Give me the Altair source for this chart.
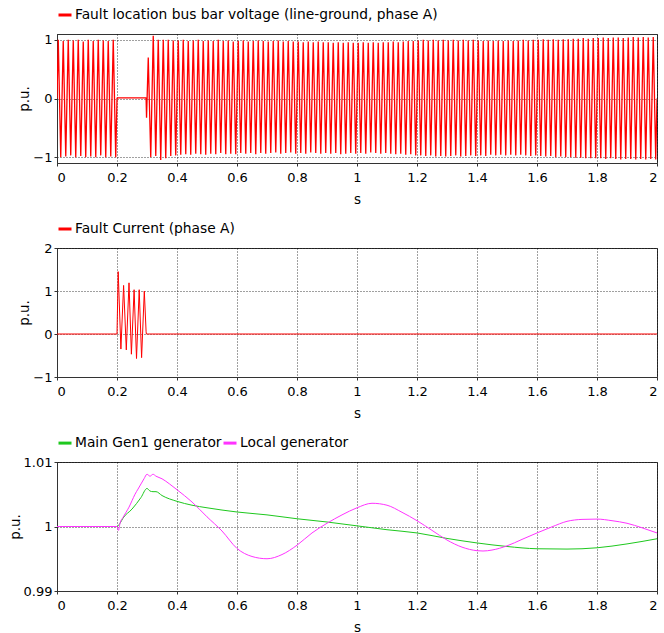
import altair as alt
import pandas as pd

FONT = "DejaVu Sans"

# ---------- Panel 1: fault location bus bar voltage (extrema of the 60 Hz wave, ms / p.u.)
volt_t = [
    0,
    4.2, 12.5, 20.8, 29.2, 37.5, 45.8, 54.2, 62.5, 70.8, 79.2, 87.5, 95.8,
    104.2, 112.5, 120.8, 129.2, 137.5, 145.8, 154.2, 162.5, 170.8, 179.2, 187.5, 195.8,
    200, 201, 296, 297, 298.5,
    304.2, 312.5, 320.8, 329.2, 337.5, 345.8, 354.2, 362.5, 370.8, 379.2, 387.5, 395.8,
    404.2, 412.5, 420.8, 429.2, 437.5, 445.8, 454.2, 462.5, 470.8, 479.2, 487.5, 495.8,
    504.2, 512.5, 520.8, 529.2, 537.5, 545.8, 554.2, 562.5, 570.8, 579.2, 587.5, 595.8,
    604.2, 612.5, 620.8, 629.2, 637.5, 645.8, 654.2, 662.5, 670.8, 679.2, 687.5, 695.8,
    704.2, 712.5, 720.8, 729.2, 737.5, 745.8, 754.2, 762.5, 770.8, 779.2, 787.5, 795.8,
    804.2, 812.5, 820.8, 829.2, 837.5, 845.8, 854.2, 862.5, 870.8, 879.2, 887.5, 895.8,
    904.2, 912.5, 920.8, 929.2, 937.5, 945.8, 954.2, 962.5, 970.8, 979.2, 987.5, 995.8,
    1004.2, 1012.5, 1020.8, 1029.2, 1037.5, 1045.8, 1054.2, 1062.5, 1070.8, 1079.2, 1087.5, 1095.8,
    1104.2, 1112.5, 1120.8, 1129.2, 1137.5, 1145.8, 1154.2, 1162.5, 1170.8, 1179.2, 1187.5, 1195.8,
    1204.2, 1212.5, 1220.8, 1229.2, 1237.5, 1245.8, 1254.2, 1262.5, 1270.8, 1279.2, 1287.5, 1295.8,
    1304.2, 1312.5, 1320.8, 1329.2, 1337.5, 1345.8, 1354.2, 1362.5, 1370.8, 1379.2, 1387.5, 1395.8,
    1404.2, 1412.5, 1420.8, 1429.2, 1437.5, 1445.8, 1454.2, 1462.5, 1470.8, 1479.2, 1487.5, 1495.8,
    1504.2, 1512.5, 1520.8, 1529.2, 1537.5, 1545.8, 1554.2, 1562.5, 1570.8, 1579.2, 1587.5, 1595.8,
    1604.2, 1612.5, 1620.8, 1629.2, 1637.5, 1645.8, 1654.2, 1662.5, 1670.8, 1679.2, 1687.5, 1695.8,
    1704.2, 1712.5, 1720.8, 1729.2, 1737.5, 1745.8, 1754.2, 1762.5, 1770.8, 1779.2, 1787.5, 1795.8,
    1804.2, 1812.5, 1820.8, 1829.2, 1837.5, 1845.8, 1854.2, 1862.5, 1870.8, 1879.2, 1887.5, 1895.8,
    1904.2, 1912.5, 1920.8, 1929.2, 1937.5, 1945.8, 1954.2, 1962.5, 1970.8, 1979.2, 1987.5, 1995.8,
    2000,
]
volt_v = [
    0.0,
    1.0, -1.0, 0.98, -0.99, 1.0, -0.97, 0.99, -1.0, 1.0, -0.98, 0.97, -1.0,
    1.0, -0.99, 0.98, -1.0, 1.0, -0.97, 0.99, -1.0, 0.98, -0.99, 1.0, -1.0,
    0.0, 0.01, 0.01, 0.0, -0.33,
    0.70, -1.0, 1.07, -0.98, 1.0, -1.05, 1.0, -1.02, 1.0, -0.98, 0.99, -0.97,
    0.99, -0.96, 1.0, -0.95, 0.98, -0.96, 0.99, -0.94, 1.0, -0.95, 0.98, -0.96,
    0.99, -0.94, 0.98, -0.95, 1.0, -0.93, 0.98, -0.95, 0.99, -0.94, 0.97, -0.95,
    0.98, -0.93, 0.99, -0.94, 0.97, -0.93, 0.98, -0.95, 0.99, -0.93, 0.98, -0.94,
    0.97, -0.93, 0.98, -0.92, 0.99, -0.94, 0.97, -0.93, 0.98, -0.92, 0.97, -0.94,
    0.97, -0.93, 0.96, -0.94, 0.97, -0.92, 0.96, -0.93, 0.97, -0.94, 0.96, -0.93,
    0.96, -0.94, 0.95, -0.93, 0.96, -0.95, 0.95, -0.94, 0.96, -0.93, 0.95, -0.94,
    0.95, -0.93, 0.96, -0.94, 0.95, -0.92, 0.96, -0.93, 0.95, -0.94, 0.96, -0.93,
    0.96, -0.94, 0.97, -0.95, 0.96, -0.94, 0.97, -0.96, 0.98, -0.95, 0.98, -0.97,
    0.99, -0.97, 1.0, -0.98, 0.99, -0.97, 1.0, -0.99, 0.99, -0.98, 1.0, -0.99,
    0.99, -0.98, 1.0, -0.97, 0.99, -0.99, 1.0, -0.98, 0.99, -0.97, 1.0, -0.98,
    0.99, -0.97, 0.98, -0.98, 0.99, -0.96, 0.98, -0.97, 0.99, -0.96, 0.98, -0.97,
    0.99, -0.96, 0.98, -0.97, 0.99, -0.96, 1.0, -0.97, 0.99, -0.98, 1.0, -0.97,
    1.0, -0.98, 1.01, -0.99, 1.0, -0.98, 1.01, -1.0, 1.0, -0.99, 1.01, -1.0,
    1.01, -1.0, 1.02, -1.01, 1.02, -1.01, 1.03, -1.02, 1.02, -1.02, 1.03, -1.02,
    1.03, -1.02, 1.04, -1.03, 1.03, -1.02, 1.04, -1.03, 1.04, -1.04, 1.03, -1.03,
    1.04, -1.03, 1.05, -1.04, 1.04, -1.03, 1.05, -1.04, 1.04, -1.03, 1.05, -1.04,
    0.0,
]

# ---------- Panel 2: fault current (ms / p.u.)
cur_t = [0, 200, 204, 213, 222, 231, 240, 248, 257, 265, 274, 282, 291, 297, 298, 2000]
cur_v = [0, 0, 1.45, -0.35, 1.13, -0.37, 1.19, -0.47, 1.03, -0.57, 1.03, -0.55, 1.0, 0.05, 0, 0]

# ---------- Panel 3: generator speeds (s / p.u.)
gen1_t = [0, 0.2, 0.21, 0.22, 0.25, 0.28, 0.30, 0.31, 0.32, 0.33, 0.35, 0.40, 0.45, 0.50,
          0.60, 0.70, 0.80, 0.90, 1.00, 1.10, 1.20, 1.30, 1.40, 1.50, 1.60, 1.70, 1.80, 1.90, 2.00]
gen1_v = [1.0, 1.0, 1.0005, 1.0013, 1.0027, 1.0045, 1.0059, 1.0055, 1.0054, 1.0054, 1.0048,
          1.0039, 1.0033, 1.0029, 1.00225, 1.0018, 1.0012, 1.0007, 1.0001, 0.9995, 0.9990,
          0.99815, 0.99745, 0.9969, 0.99655, 0.9965, 0.9967, 0.9973, 0.9981]
local_t = [0, 0.2, 0.205, 0.21, 0.22, 0.23, 0.24, 0.25, 0.26, 0.27, 0.28, 0.29, 0.30, 0.31,
           0.32, 0.33, 0.35, 0.375, 0.40, 0.45, 0.50, 0.55, 0.60, 0.65, 0.70, 0.75, 0.80,
           0.85, 0.90, 0.95, 1.00, 1.05, 1.10, 1.15, 1.20, 1.25, 1.30, 1.35, 1.40, 1.42,
           1.45, 1.50, 1.55, 1.60, 1.65, 1.70, 1.75, 1.80, 1.85, 1.90, 1.95, 2.00]
local_v = [1.0, 1.0, 0.9994, 1.0005, 1.0014, 1.0022, 1.0030, 1.0040, 1.0050, 1.0058, 1.0066,
           1.0074, 1.0081, 1.0078, 1.0081, 1.0078, 1.0074, 1.0066, 1.0057, 1.0038, 1.0015,
           0.9993, 0.9966, 0.99535, 0.9950, 0.99565, 0.9971, 0.9990, 1.0005, 1.0018, 1.0029,
           1.0036, 1.0033, 1.0022, 1.0009, 0.9994, 0.9979, 0.9968, 0.99625, 0.9962, 0.99635,
           0.9970, 0.9980, 0.9990, 0.99995, 1.0008, 1.0011, 1.00115, 1.0009, 1.0005, 0.9998,
           0.9990]

x_ticks = [0, 0.2, 0.4, 0.6, 0.8, 1, 1.2, 1.4, 1.6, 1.8, 2]

volt_name = "Fault location bus bar voltage (line-ground, phase A)"
cur_name = "Fault Current (phase A)"
gen1_name = "Main Gen1 generator"
local_name = "Local generator"

df1 = pd.DataFrame({"t": [x / 1000 for x in volt_t], "v": volt_v, "series": volt_name})
df2 = pd.DataFrame({"t": [x / 1000 for x in cur_t], "v": cur_v, "series": cur_name})
df3 = pd.concat([
    pd.DataFrame({"t": gen1_t, "v": gen1_v, "series": gen1_name}),
    pd.DataFrame({"t": local_t, "v": local_v, "series": local_name}),
])


def panel(df, ydomain, yvals, names, colors, interp="linear", sw=1.0):
    return alt.Chart(df).mark_line(strokeWidth=sw, interpolate=interp, clip=True).encode(
        x=alt.X("t:Q", scale=alt.Scale(domain=[0, 2], nice=False),
                axis=alt.Axis(values=x_ticks, format="~g", title="s")),
        y=alt.Y("v:Q", scale=alt.Scale(domain=ydomain, nice=False, zero=False),
                axis=alt.Axis(values=yvals, format="~g", title="p.u.")),
        color=alt.Color("series:N", scale=alt.Scale(domain=names, range=colors),
                        legend=alt.Legend(orient="top", direction="horizontal", title=None,
                                          symbolType="stroke", symbolSize=169,
                                          symbolStrokeWidth=3, labelFont=FONT,
                                          labelFontSize=13.8, labelColor="black",
                                          labelLimit=600, labelOffset=2,
                                          columnPadding=-8, offset=12, padding=0)),
    ).properties(width=600, height=129)


p1 = panel(df1, [-1.1, 1.1], [-1, 0, 1], [volt_name], ["#ff0000"], sw=1.3)
p2 = panel(df2, [-1, 2], [-1, 0, 1, 2], [cur_name], ["#ff0000"])
p3 = panel(df3, [0.99, 1.01], [0.99, 1, 1.01], [gen1_name, local_name],
           ["#1ec81e", "#ff33ff"], interp="monotone")

chart = alt.vconcat(p1, p2, p3, spacing=14).resolve_scale(
    color="independent", x="independent", y="independent"
).resolve_legend(color="independent").properties(
    padding={"left": 7, "top": 6, "right": 2, "bottom": 5},
    background="white",
).configure_view(stroke="#333333", strokeWidth=1).configure_axis(
    labelFont=FONT, labelFontSize=13, labelColor="black",
    titleFont=FONT, titleFontSize=13.5, titleFontWeight="normal", titleColor="black",
    domainColor="#333333", tickColor="#333333", tickSize=3,
    gridColor="black", gridDash=[1, 2], gridOpacity=0.75, grid=True,
).configure_axisX(labelPadding=5, titlePadding=8).configure_axisY(labelPadding=2, titlePadding=1)

chart.save("out.html", embed_options={"renderer": "svg", "actions": False})
